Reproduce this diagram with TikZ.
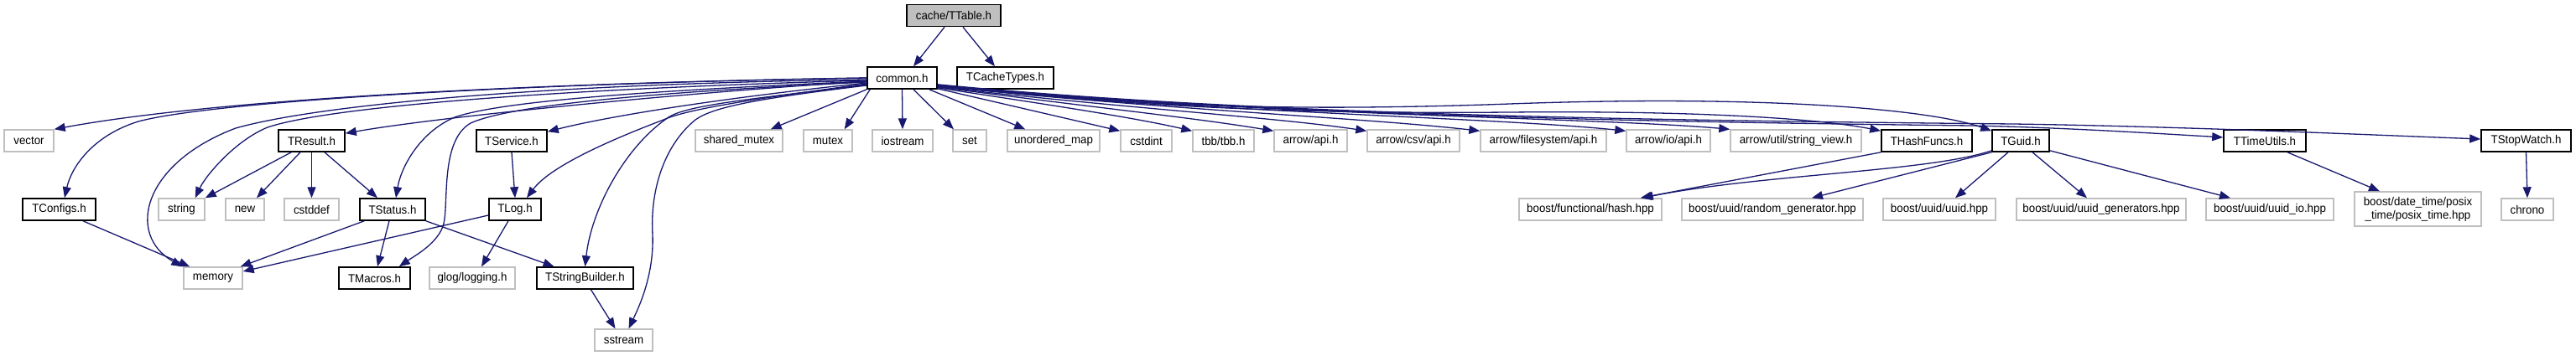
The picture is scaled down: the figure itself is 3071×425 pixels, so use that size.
\documentclass[tikz,border=0pt]{standalone}
\usepackage{fontspec}
\setmainfont{Liberation Sans}[FakeStretch=0.95]
\usetikzlibrary{arrows.meta}
\definecolor{edgeblue}{RGB}{25,25,112}
\definecolor{boxgray}{RGB}{191,191,191}
\definecolor{rootfill}{RGB}{191,191,191}
\tikzset{
  basebox/.style={rectangle, inner sep=0pt, minimum height=26pt, fill=white,
    font=\fontsize{14pt}{16pt}\selectfont, align=center},
  docbox/.style={basebox, draw=black, line width=1.6pt},
  sysbox/.style={basebox, draw=boxgray, line width=1.4pt},
  rootbox/.style={docbox, fill=rootfill},
  dep/.style={draw=edgeblue, line width=1.3pt, -{Triangle[length=13pt,width=10pt]}}
}
\begin{document}
\begin{tikzpicture}[x=1pt,y=-1pt]
\useasboundingbox (0,0) rectangle (3071,425);
% row 0
\node[rootbox, minimum width=112pt] (ttable) at (1137,18.5) {cache/TTable.h};
% row 1
\node[docbox, minimum width=83pt] (common) at (1075.5,93) {common.h};
\node[docbox, minimum width=115pt] (ctypes) at (1198.5,93) {TCacheTypes.h};
% row 2
\node[sysbox, minimum width=59pt] (vector) at (34.5,168) {vector};
\node[docbox, minimum width=79pt] (tresult) at (371.5,168) {TResult.h};
\node[docbox, minimum width=84pt] (tservice) at (610,168) {TService.h};
\node[sysbox, minimum width=104pt] (smutex) at (881,168) {shared\_mutex};
\node[sysbox, minimum width=58pt] (mutex) at (987,168) {mutex};
\node[sysbox, minimum width=72pt] (iostream) at (1076,168) {iostream};
\node[sysbox, minimum width=40pt] (set) at (1156,168) {set};
\node[sysbox, minimum width=110pt] (umap) at (1256,168) {unordered\_map};
\node[sysbox, minimum width=61pt] (cstdint) at (1366.5,168) {cstdint};
\node[sysbox, minimum width=73pt] (tbb) at (1458.5,168) {tbb/tbb.h};
\node[sysbox, minimum width=87pt] (aapi) at (1562.5,168) {arrow/api.h};
\node[sysbox, minimum width=110pt] (acsv) at (1685,168) {arrow/csv/api.h};
\node[sysbox, minimum width=150pt] (afs) at (1840,168) {arrow/filesystem/api.h};
\node[sysbox, minimum width=100pt] (aio) at (1989,168) {arrow/io/api.h};
\node[sysbox, minimum width=156pt] (asv) at (2141,168) {arrow/util/string\_view.h};
\node[docbox, minimum width=108pt] (thash) at (2297,168) {THashFuncs.h};
\node[docbox, minimum width=68pt] (tguid) at (2409,168) {TGuid.h};
\node[docbox, minimum width=98pt] (ttime) at (2700,168) {TTimeUtils.h};
\node[docbox, minimum width=107pt] (tstop) at (3011.5,168) {TStopWatch.h};
% row 3
\node[docbox, minimum width=87pt] (tconfigs) at (70.5,250) {TConfigs.h};
\node[sysbox, minimum width=55pt] (string) at (216.5,250) {string};
\node[sysbox, minimum width=46pt] (new) at (292,250) {new};
\node[sysbox, minimum width=65pt] (cstddef) at (371.5,250) {cstddef};
\node[docbox, minimum width=78pt] (tstatus) at (468,250) {TStatus.h};
\node[docbox, minimum width=62pt] (tlog) at (614,250) {TLog.h};
\node[sysbox, minimum width=170pt] (bhash) at (1896,250) {boost/functional/hash.hpp};
\node[sysbox, minimum width=216pt] (brand) at (2113,250) {boost/uuid/random\_generator.hpp};
\node[sysbox, minimum width=134pt] (buuid) at (2312,250) {boost/uuid/uuid.hpp};
\node[sysbox, minimum width=202pt] (bgen) at (2505,250) {boost/uuid/uuid\_generators.hpp};
\node[sysbox, minimum width=152pt] (bio) at (2706,250) {boost/uuid/uuid\_io.hpp};
\node[sysbox, minimum width=151pt, minimum height=41pt] (bposix) at (2882.5,249.5) {boost/date\_time/posix\\\_time/posix\_time.hpp};
\node[sysbox, minimum width=62pt] (chrono) at (3013,250) {chrono};
% row 4
\node[sysbox, minimum width=70pt] (memory) at (254,332) {memory};
\node[docbox, minimum width=85pt] (tmacros) at (446.5,332) {TMacros.h};
\node[sysbox, minimum width=102pt] (glog) at (563,332) {glog/logging.h};
\node[docbox, minimum width=115pt] (tsb) at (697.5,332) {TStringBuilder.h};
% row 5
\node[sysbox, minimum width=69pt] (sstream) at (743.5,406) {sstream};

% edges from cache/TTable.h
\draw[dep] ([xshift=-11pt]ttable.south) -- ([xshift=13.5pt]common.north);
\draw[dep] ([xshift=11pt]ttable.south) -- ([xshift=-12.5pt]ctypes.north);

% edges from common.h to the left
\draw[dep] (common.west) .. controls (600,100) and (250,120) .. (vector.north east);
\draw[dep] (common.west) .. controls (600,100) and (250,122) .. (165,145) .. controls (110,162) and (85,200) .. ([xshift=6.5pt]tconfigs.north);
\draw[dep] ([yshift=-2pt]common.west) .. controls (650,100) and (380,125) .. (281,153) .. controls (170,195) and (150,280) .. ([xshift=-1pt]memory.north west);
\draw[dep] ([yshift=-3pt]common.west) .. controls (700,105) and (400,125) .. (319,152) .. controls (280,168) and (245,210) .. ([xshift=-12pt]string.north east);
\draw[dep] ([yshift=-4pt]common.west) .. controls (800,112) and (520,140) .. ([yshift=-5pt]tresult.north east);
\draw[dep] ([yshift=-4pt]common.west) .. controls (780,108) and (600,120) .. (542,140) .. controls (500,158) and (478,200) .. ([xshift=4pt]tstatus.north);
\draw[dep] ([yshift=-5pt]common.west) .. controls (780,110) and (610,125) .. (561,147) .. controls (525,168) and (535,240) .. (529,267) .. controls (523,290) and (495,305) .. ([xshift=-14pt]tmacros.north east);
\draw[dep] ([yshift=-6pt]common.west) .. controls (850,118) and (720,140) .. ([yshift=-3pt]tservice.north east);
\draw[dep] ([yshift=-7pt]common.west) .. controls (900,118) and (820,130) .. (791,143) .. controls (720,170) and (655,200) .. ([xshift=14pt]tlog.north);
\draw[dep] ([yshift=-8pt]common.west) .. controls (900,118) and (820,125) .. (797,140) .. controls (745,175) and (705,250) .. (tsb.north);
\draw[dep] ([yshift=-9pt]common.west) .. controls (900,118) and (850,128) .. (829,143) .. controls (790,175) and (775,230) .. (778,280) .. controls (780,330) and (760,370) .. ([xshift=6pt]sstream.north);
\draw[dep] (common.south west) -- ([xshift=-15pt]smutex.north east);
\draw[dep] ([xshift=4pt]common.south west) -- ([xshift=-10pt]mutex.north east);
\draw[dep] (common.south) -- (iostream.north);
\draw[dep] ([xshift=13.5pt]common.south) -- ([xshift=-19pt]set.north);
\draw[dep] ([xshift=-10pt]common.south east) -- ([xshift=22pt]umap.north west);

% edges from common.h to the right
\draw[dep] ([yshift=1pt]common.south east) -- ([yshift=-2pt]cstdint.north west);
\draw[dep] ([yshift=2pt]common.south east) .. controls (1250,125) and (1350,140) .. ([yshift=-2pt]tbb.north west);
\draw[dep] ([yshift=3pt]common.south east) .. controls (1300,128) and (1420,140) .. ([yshift=-2pt]aapi.north west);
\draw[dep] ([yshift=3pt]common.south east) .. controls (1350,130) and (1520,140) .. ([yshift=-2pt]acsv.north west);
\draw[dep] ([yshift=4pt]common.south east) .. controls (1400,132) and (1620,140) .. ([yshift=-2pt]afs.north west);
\draw[dep] ([yshift=4pt]common.south east) .. controls (1450,135) and (1780,140) .. ([yshift=-2pt]aio.north west);
\draw[dep] ([yshift=4pt]common.south east) .. controls (1500,138) and (1900,140) .. (asv.north west);
\draw[dep] ([yshift=5pt]common.south east) .. controls (1350,128) and (1550,136) .. (1800,134) .. controls (2000,132) and (2160,140) .. ([yshift=-2pt]thash.north west);
\draw[dep] ([yshift=5pt]common.south east) .. controls (1350,128) and (1550,133) .. (1800,124) .. controls (2100,113) and (2300,130) .. ([yshift=-2pt]tguid.north west);
\draw[dep] ([yshift=5pt]common.south east) .. controls (1500,138) and (2000,146) .. (2350,150) .. controls (2450,152) and (2550,158) .. ([yshift=4pt]ttime.west);
\draw[dep] ([yshift=6pt]common.south east) .. controls (1500,138) and (2000,144) .. (2400,148) .. controls (2600,151) and (2800,160) .. ([yshift=2pt]tstop.west);

% other edges
\draw[dep] ([xshift=16pt]tresult.south west) -- (string.north east);
\draw[dep] ([xshift=-13.5pt]tresult.south) -- ([xshift=14pt]new.north);
\draw[dep] (tresult.south) -- (cstddef.north);
\draw[dep] ([xshift=15.5pt]tresult.south) -- ([xshift=-18pt]tstatus.north);
\draw[dep] (tservice.south) -- (tlog.north);
\draw[dep] ([xshift=28.5pt]tconfigs.south) -- ([xshift=8pt]memory.north west);
\draw[dep] ([xshift=6pt]tstatus.south west) -- ([xshift=-3pt]memory.north east);
\draw[dep] ([xshift=-4pt]tstatus.south) -- ([xshift=3.5pt]tmacros.north);
\draw[dep] (tstatus.south east) -- ([xshift=-37pt]tsb.north);
\draw[dep] ([yshift=-7pt]tlog.west) -- ([yshift=8pt]memory.east);
\draw[dep] ([xshift=-8pt]tlog.south) -- ([xshift=11pt]glog.north);
\draw[dep] ([xshift=7pt]tsb.south) -- ([xshift=-10pt]sstream.north);
\draw[dep] (thash.south west) -- ([xshift=-26pt]bhash.north east);
\draw[dep] ([yshift=2pt]tguid.south west) .. controls (2300,205) and (2100,208) .. ([xshift=-24pt]bhash.north east);
\draw[dep] (tguid.south west) -- ([xshift=47pt]brand.north);
\draw[dep] ([xshift=-15pt]tguid.south) -- ([xshift=19pt]buuid.north);
\draw[dep] ([xshift=14pt]tguid.south) -- ([xshift=-17pt]bgen.north);
\draw[dep] ([yshift=2pt]tguid.south east) -- ([xshift=-47pt]bio.north);
\draw[dep] ([xshift=27pt]ttime.south) -- ([xshift=-45.5pt]bposix.north);
\draw[dep] (tstop.south) -- (chrono.north);
\end{tikzpicture}
\end{document}
